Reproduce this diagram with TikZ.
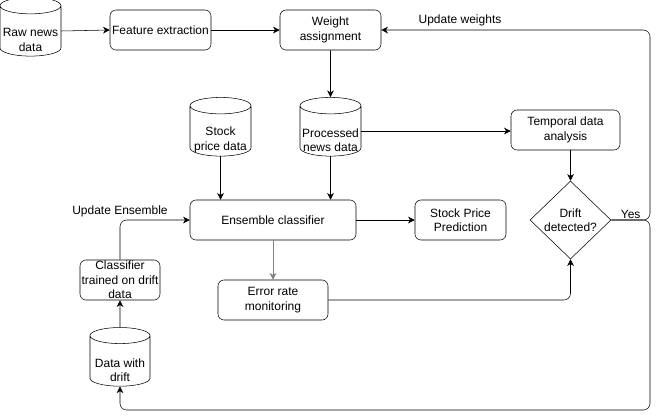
\documentclass[tikz,border=0pt]{standalone}
\usepackage{fontspec}
\setmainfont{Liberation Sans}
\usetikzlibrary{shapes.geometric,arrows.meta}

\begin{document}
\begin{tikzpicture}[x=0.75pt,y=-0.75pt,
    font=\fontsize{9}{10.8}\selectfont,
    box/.style={draw, rounded corners=4.5pt, align=center, inner sep=1pt,
      minimum height=30pt},
    store/.style={draw, cylinder, shape border rotate=90, aspect=0.28,
      inner sep=0pt, minimum width=45.75pt, minimum height=44pt},
    storetext/.style={align=center, inner sep=0pt, yshift=-6.75pt},
    decision/.style={draw, diamond, minimum width=60.75pt, minimum height=58.5pt,
      inner sep=0pt},
    flow/.style={-{Stealth[length=5pt,width=5pt,inset=1.5pt]}, rounded corners=5pt},
    tag/.style={inner sep=1pt}]
\useasboundingbox (0,0) rectangle (659,419);

% sources
\node[store, label={[storetext]center:{Raw news\\data}}] (raw) at (30.5,31) {\hspace*{44pt}};
\node[box, minimum width=75.75pt] (feat) at (160.5,30) {Feature extraction};
\node[box, minimum width=75.75pt] (weight) at (330.5,30) {Weight\\assignment};
\node[store, label={[storetext]center:{Stock\\price data}}] (stock) at (220.5,131) {\hspace*{44pt}};
\node[store, label={[storetext]center:{Processed\\news data}}] (proc) at (330.5,131) {\hspace*{44pt}};

% middle row
\node[box, minimum width=81.75pt] (temporal) at (565.5,130) {Temporal data\\analysis};
\node[box, minimum width=124.5pt] (ens) at (273,220) {Ensemble classifier};
\node[box, minimum width=68.25pt] (pred) at (460.5,220) {Stock Price\\Prediction};
\node[decision] (drift) at (570.5,220) {};
\node[align=center] (drifttxt) at (drift) {Drift\\detected?};

% drift handling
\node[box, minimum width=82.5pt] (err) at (273,300) {Error rate\\monitoring};
\node[box, minimum width=60pt, inner sep=0pt] (clf) at (120,280) {Classifier\\trained on drift\\data};
\node[store, minimum width=45pt, label={[storetext]center:{Data with\\drift}}] (dwd) at (120,361) {\hspace*{43pt}};

\coordinate (turn) at (650,220);
\coordinate (base) at (650,410);

\draw[flow] (raw.east) -- (feat.west);
\draw[flow] (feat.east) -- (weight.west);
\draw[flow] (weight.south) -- (proc.north);
\draw[flow] (proc.south) -- (proc.south |- ens.north);
\draw[flow] (stock.south) -- (stock.south |- ens.north);
\draw[flow] (proc.east) -- (temporal.west |- proc.east);
\draw[flow] (temporal.south -| drift.north) -- (drift.north);
\draw[flow] (ens.east) -- (pred.west);
\draw[flow, draw=gray] (ens.south) -- (err.north);
\draw[flow] (err.east) -| (drift.south);
\draw[flow] (drift.east) -- node[tag, above] (yes) {Yes} (turn) |- (weight.east);
\draw[flow] (drift.east) -- (turn) -- (base) -| (dwd.south);
\draw[flow] (dwd.north) -- (clf.south);
\draw[flow] (clf.north) |- (ens.west);

\node[tag] (updw) at (460,20) {Update weights};
\node[tag] (upde) at (120,211) {Update Ensemble};
\end{tikzpicture}
\end{document}
